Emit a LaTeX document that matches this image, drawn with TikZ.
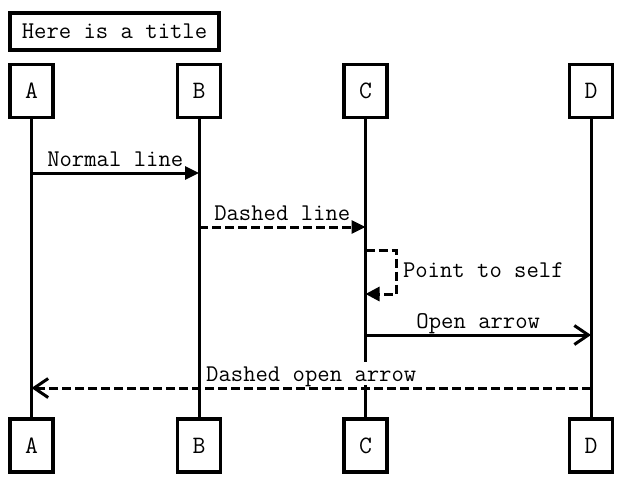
\documentclass[tikz,border=0pt]{standalone}
\usepackage{fontspec}
\usetikzlibrary{arrows.meta}

\begin{document}
\begin{tikzpicture}[x=1pt,y=-1pt]
    \tikzstyle{actor}=[draw,line width=3.2pt,fill=white,minimum width=43pt,minimum height=53pt,inner sep=0pt,font=\fontsize{25}{25}\ttfamily]
    \tikzstyle{titlebox}=[draw,line width=3.2pt,minimum width=209pt,minimum height=37pt,inner sep=0pt,font=\fontsize{24}{24}\ttfamily]
    \tikzstyle{life}=[line width=3pt]
    \tikzstyle{msg}=[line width=3pt]
    \tikzstyle{dashmsg}=[line width=3pt,dash pattern=on 9pt off 4pt]
    \tikzstyle{lbl}=[fill=white,text height=17pt,text depth=2pt,inner xsep=1pt,inner ysep=2pt,anchor=base,yshift=7pt,font=\fontsize{24}{24}\ttfamily]
    \useasboundingbox (0,0) rectangle (623,483);

    \node[titlebox] (title) at (114.5,31.5) {Here is a title};

    % participants
    \node[actor] (At) at (31.5,91) {A};
    \node[actor] (Bt) at (199,91) {B};
    \node[actor] (Ct) at (365.5,91) {C};
    \node[actor] (Dt) at (591,91) {D};
    \node[actor] (Ab) at (31.5,445.5) {A};
    \node[actor] (Bb) at (199,445.5) {B};
    \node[actor] (Cb) at (365.5,445.5) {C};
    \node[actor] (Db) at (591,445.5) {D};

    \draw[life] (At) -- (Ab);
    \draw[life] (Bt) -- (Bb);
    \draw[life] (Ct) -- (Cb);
    \draw[life] (Dt) -- (Db);

    % messages
    \coordinate (m1a) at (At |- 0,173);
    \coordinate (m1b) at (Bt |- 0,173);
    \coordinate (m2a) at (Bt |- 0,227);
    \coordinate (m2b) at (Ct |- 0,227);
    \coordinate (m3a) at (Ct |- 0,250);
    \coordinate (m3b) at (Ct |- 0,294);
    \coordinate (m4a) at (Ct |- 0,335);
    \coordinate (m4b) at (Dt |- 0,335);
    \coordinate (m5a) at (Dt |- 0,388);
    \coordinate (m5b) at (At |- 0,388);

    \draw[msg,-{Triangle[length=14pt,width=13pt]}] (m1a) -- (m1b) node[lbl,midway] {Normal line};
    \draw[dashmsg,-{Triangle[length=14pt,width=13pt]}] (m2a) -- (m2b) node[lbl,midway] {Dashed line};
    \draw[dashmsg,-{Triangle[length=14pt,width=14pt]}] (m3a) -- ++(30.5,0) -- ++(0,44)
        node[midway,anchor=base west,font=\fontsize{24}{24}\ttfamily,inner sep=1pt,xshift=4.5pt,yshift=-5pt] {Point to self} -- (m3b);
    \draw[msg,-{Straight Barb[length=14pt,width=19pt]}] (m4a) -- (m4b) node[lbl,midway] {Open arrow};
    \draw[dashmsg,-{Straight Barb[length=14pt,width=19pt]}] (m5a) -- (m5b) node[lbl,midway] {Dashed open arrow};
\end{tikzpicture}
\end{document}
